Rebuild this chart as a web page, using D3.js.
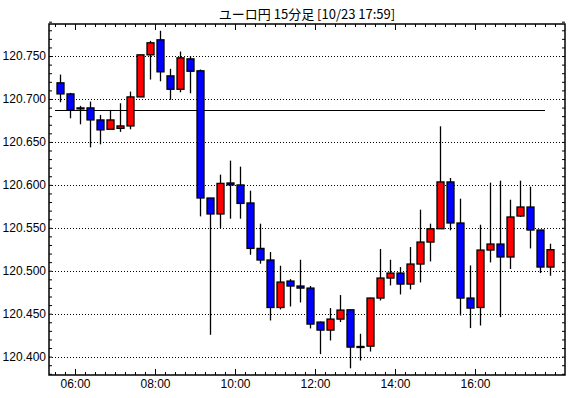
<!DOCTYPE html>
<meta charset="utf-8">
<script src="https://cdn.jsdelivr.net/npm/d3@7"></script>
<style>
  body { margin: 0; background: #fff; }
  .tick text { font-family: "Liberation Sans Narrow", "Liberation Sans", sans-serif; font-size: 12px; fill: #000; }
  .domain { display: none; }
  .tick line { stroke: #000; }
</style>
<div id="chart"></div>
<script>

// 15 minute candles, start time of each bar
const times = ["05:30","05:45","06:00","06:15","06:30","06:45","07:00","07:15","07:30","07:45",
  "08:00","08:15","08:30","08:45","09:00","09:15","09:30","09:45","10:00","10:15",
  "10:30","10:45","11:00","11:15","11:30","11:45","12:00","12:15","12:30","12:45",
  "13:00","13:15","13:30","13:45","14:00","14:15","14:30","14:45","15:00","15:15",
  "15:30","15:45","16:00","16:15","16:30","16:45","17:00","17:15","17:30","17:45"];

const open = [120.7188,120.7059,120.6896,120.6896,120.6756,120.6647,120.6658,120.6686,120.7024,120.7514,
  120.7689,120.7269,120.7113,120.7467,120.7328,120.5847,120.5661,120.6022,120.5999,120.5789,
  120.5260,120.5125,120.4572,120.4880,120.4822,120.4798,120.4402,120.4309,120.4437,120.4545,
  120.4118,120.4122,120.4682,120.4915,120.4973,120.4845,120.5078,120.5334,120.5489,120.6034,
  120.5556,120.4682,120.4572,120.5241,120.5311,120.5160,120.5637,120.5742,120.5474,120.5043];

const high = [120.7284,120.7071,120.6920,120.6970,120.6815,120.6873,120.6950,120.7086,120.7514,120.7677,
  120.7794,120.7351,120.7552,120.7498,120.7343,120.5847,120.6119,120.6282,120.6212,120.5932,
  120.5548,120.5218,120.5058,120.4903,120.5128,120.4822,120.4409,120.4565,120.4717,120.4550,
  120.4266,120.4686,120.5253,120.5128,120.5043,120.5276,120.5711,120.5548,120.6682,120.6080,
  120.5839,120.5062,120.5536,120.6026,120.6049,120.5827,120.6049,120.5979,120.5474,120.5315];

const low = [120.6962,120.6775,120.6705,120.6437,120.6472,120.6647,120.6617,120.6647,120.7024,120.7226,
  120.7206,120.6990,120.7078,120.7066,120.5633,120.4254,120.5498,120.5606,120.5606,120.5186,
  120.5082,120.4421,120.4549,120.4584,120.4631,120.4328,120.4029,120.4188,120.4402,120.3864,
  120.3955,120.4059,120.4654,120.4829,120.4724,120.4782,120.4864,120.5108,120.5489,120.5470,
  120.4479,120.4332,120.4362,120.5097,120.4460,120.5020,120.5626,120.5260,120.4973,120.4942];

const close = [120.7059,120.6873,120.6896,120.6756,120.6640,120.6756,120.6686,120.7024,120.7514,120.7654,
  120.7316,120.7113,120.7479,120.7323,120.5847,120.5661,120.6017,120.5999,120.5784,120.5260,
  120.5125,120.4572,120.4868,120.4822,120.4798,120.4379,120.4309,120.4437,120.4542,120.4111,
  120.4118,120.4682,120.4915,120.4973,120.4845,120.5078,120.5334,120.5489,120.6034,120.5556,
  120.4682,120.4565,120.5241,120.5311,120.5160,120.5626,120.5742,120.5474,120.5043,120.5245];

// horizontal reference line
const refLevel = 120.6876;

const xLabels = ["06:00","08:00","10:00","12:00","14:00","16:00"];
const yLabels = ["120.400","120.450","120.500","120.550","120.600","120.650","120.700","120.750"];

const title = "ユーロ円 15分足 [10/23 17:59]";

// set the dimensions and margins of the graph
const W = 570, H = 398;
const margin = {top: 24, right: 5, bottom: 23, left: 49};
const pLeft = margin.left, pRight = W - margin.right,
      pTop = margin.top, pBottom = H - margin.bottom;

const toMin = s => { const p = s.split(":"); return +p[0] * 60 + +p[1]; };

const data = times.map((t, i) => ({t: toMin(t), o: open[i], h: high[i], l: low[i], c: close[i]}));

const svg = d3.select("#chart").append("svg")
  .attr("width", W).attr("height", H);

// x in minutes of the day, y in price
const x = d3.scaleLinear().domain([321, 1095]).range([pLeft, pRight]);
const y = d3.scaleLinear().domain([120.3786, 120.7873]).range([pBottom, pTop]);

// title
svg.append("text")
  .attr("x", (pLeft + pRight) / 2)
  .attr("y", 19)
  .attr("text-anchor", "middle")
  .style("font-family", "'Noto Sans CJK JP', sans-serif")
  .style("font-size", "13px")
  .text(title);

// dotted grid
svg.append("g").selectAll("line")
  .data(yLabels)
  .join("line")
    .attr("x1", pLeft).attr("x2", pRight)
    .attr("y1", d => Math.round(y(+d)) + 0.5)
    .attr("y2", d => Math.round(y(+d)) + 0.5)
    .attr("stroke", "#000")
    .attr("stroke-dasharray", "1,2");

// minor ticks
const minorX = d3.range(330, 1095, 15);
const minorY = d3.range(120.38, 120.79, 0.01);

svg.append("g").attr("transform", `translate(0,${pBottom})`)
  .call(d3.axisBottom(x).tickValues(minorX).tickSize(-3).tickFormat(""));
svg.append("g").attr("transform", `translate(0,${pTop})`)
  .call(d3.axisTop(x).tickValues(minorX).tickSize(-3).tickFormat(""));
svg.append("g").attr("transform", `translate(0,${pBottom})`)
  .call(d3.axisBottom(x).tickValues(xLabels.map(toMin)).tickSize(-6).tickPadding(4)
    .tickFormat((d, i) => xLabels[i]));
svg.append("g").attr("transform", `translate(0,${pTop})`)
  .call(d3.axisTop(x).tickValues(xLabels.map(toMin)).tickSize(-6).tickFormat(""));

svg.append("g").attr("transform", `translate(${pLeft},0)`)
  .call(d3.axisLeft(y).tickValues(minorY).tickSize(-3).tickFormat(""));
svg.append("g").attr("transform", `translate(${pRight},0)`)
  .call(d3.axisRight(y).tickValues(minorY).tickSize(-3).tickFormat(""));
svg.append("g").attr("transform", `translate(${pLeft},0)`)
  .call(d3.axisLeft(y).tickValues(yLabels.map(Number)).tickSize(0).tickPadding(3)
    .tickFormat((d, i) => yLabels[i]));

// reference line
svg.append("line")
  .attr("x1", x(data[0].t)).attr("x2", x(data[data.length - 1].t))
  .attr("y1", Math.round(y(refLevel)) + 0.5).attr("y2", Math.round(y(refLevel)) + 0.5)
  .attr("stroke", "#000").attr("stroke-width", 1.2);

// candles
const cx = d => Math.round(x(d.t + 7.5)) + 0.5;
const candles = svg.append("g").selectAll("g")
  .data(data)
  .join("g");

candles.append("line")
  .attr("x1", cx).attr("x2", cx)
  .attr("y1", d => y(d.h)).attr("y2", d => y(d.l))
  .attr("stroke", "#000").attr("stroke-width", 1.3);

candles.append("rect")
  .attr("x", d => cx(d) - 3.5)
  .attr("width", 7)
  .attr("y", d => y(Math.max(d.o, d.c)))
  .attr("height", d => Math.max(1, Math.abs(y(d.o) - y(d.c))))
  .attr("fill", d => d.c >= d.o ? "#ff0000" : "#0000ff")
  .attr("stroke", "#000").attr("stroke-width", 1.3);

// frame
svg.append("rect")
  .attr("x", pLeft).attr("y", pTop)
  .attr("width", pRight - pLeft).attr("height", pBottom - pTop)
  .attr("fill", "none").attr("stroke", "#000").attr("stroke-width", 1.5);

</script>
